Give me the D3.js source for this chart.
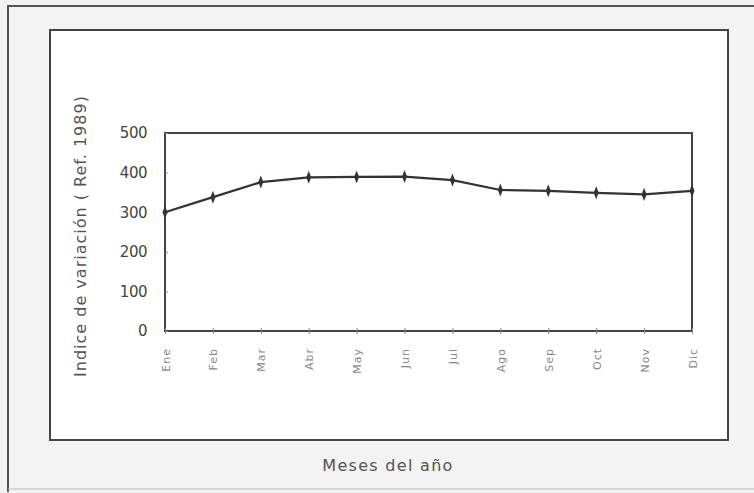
<!DOCTYPE html>
<html><head><meta charset="utf-8">
<script src="https://cdn.jsdelivr.net/npm/d3@7"></script>
<style>body{margin:0;background:#f3f3f3;}svg{display:block;}</style>
</head><body>
<svg id="c" width="754" height="493"></svg>
<script>
const months = ["Ene","Feb","Mar","Abr","May","Jun","Jul","Ago","Sep","Oct","Nov","Dic"];
const values = [300, 338, 376, 388, 389, 390, 381, 356, 354, 349, 345, 354];
const yTicks = [0, 100, 200, 300, 400, 500];
const yTitle = "Indice de variación ( Ref. 1989)";
const xTitle = "Meses del año";

const svg = d3.select("#c");
const font = "'DejaVu Sans',sans-serif";

// outer frame
svg.append("rect").attr("x",0).attr("y",0).attr("width",754).attr("height",493).attr("fill","#f3f3f3");
svg.append("path").attr("d","M8,492 L8,6 L754,6").attr("fill","none").attr("stroke","#555").attr("stroke-width",2);
svg.append("line").attr("x1",8).attr("x2",754).attr("y1",489).attr("y2",489).attr("stroke","#bbb").attr("stroke-width",1);
// inner box
svg.append("rect").attr("x",50).attr("y",30).attr("width",678).attr("height",410)
  .attr("fill","#fff").attr("stroke","#444").attr("stroke-width",2);

const m = {l:165, t:133, r:692, b:331};
const x = d3.scalePoint().domain(months).range([m.l, m.r]).padding(0);
const y = d3.scaleLinear().domain([0,500]).range([m.b, m.t]);

// plot frame
svg.append("rect").attr("x",m.l).attr("y",m.t).attr("width",m.r-m.l).attr("height",m.b-m.t)
  .attr("fill","none").attr("stroke","#444").attr("stroke-width",2);

// y axis
const ya = svg.append("g").attr("transform",`translate(${m.l},0)`)
  .call(d3.axisLeft(y).tickValues(yTicks).tickSize(3).tickPadding(15));
ya.select(".domain").remove();
ya.selectAll("line").attr("stroke","#888").attr("x2",3);
ya.selectAll("text").attr("font-family",font).attr("font-size",15).attr("fill","#444").attr("letter-spacing","-0.5");

// x axis
const xa = svg.append("g").attr("transform",`translate(0,${m.b})`)
  .call(d3.axisBottom(x).tickSize(3).tickPadding(0));
xa.select(".domain").remove();
xa.selectAll("line").attr("stroke","#888").attr("y1",-3);
xa.selectAll("text").attr("font-family",font).attr("font-size",11).attr("fill","#888")
  .attr("letter-spacing","1")
  .attr("text-anchor","end").attr("dy",null)
  .attr("transform","translate(0,17) rotate(-90)").attr("x",0).attr("y",4);

// line
const line = d3.line().x((d,i)=>x(months[i])).y(d=>y(d));
svg.append("path").datum(values).attr("d",line).attr("fill","none").attr("stroke","#333").attr("stroke-width",2.2);

// markers
svg.append("g").selectAll("path").data(values).join("path")
  .attr("transform",(d,i)=>`translate(${x(months[i])},${y(d)}) scale(0.8,1.2)`)
  .attr("d", d3.symbol(d3.symbolDiamond, 34)())
  .attr("fill","#333");

// titles
svg.append("text").attr("transform",`translate(86,236) rotate(-90)`).attr("text-anchor","middle")
  .attr("font-family",font).attr("font-size",16).attr("letter-spacing","1").attr("fill","#555").text(yTitle);
svg.append("text").attr("x",388).attr("y",471).attr("text-anchor","middle")
  .attr("font-family",font).attr("font-size",16).attr("letter-spacing","1.3").attr("fill","#555").text(xTitle);
</script>
</body></html>
